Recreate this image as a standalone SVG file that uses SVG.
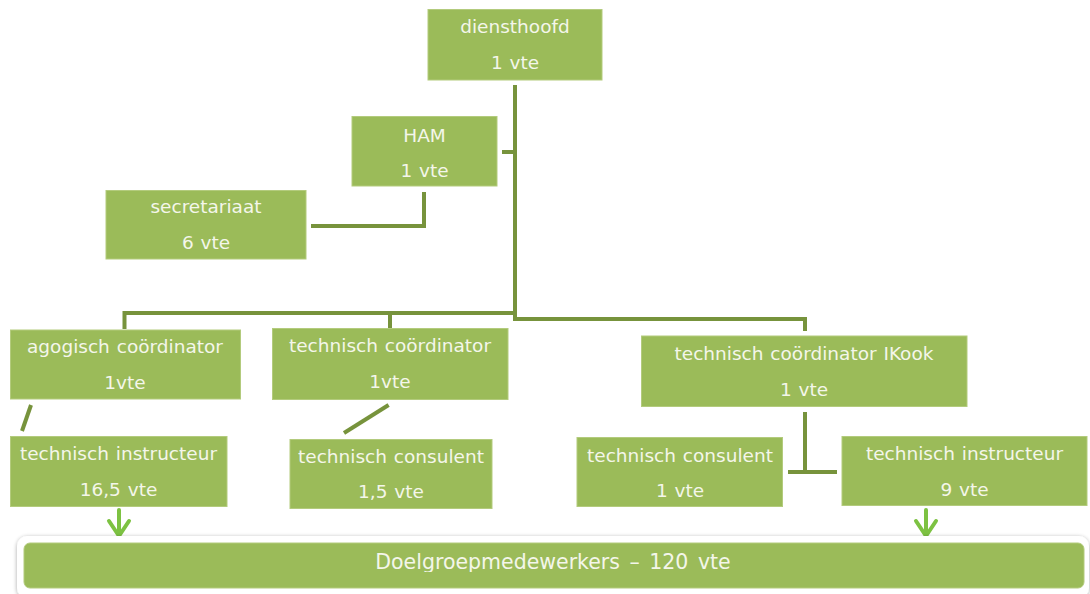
<svg xmlns="http://www.w3.org/2000/svg" width="1090" height="594" viewBox="0 0 1090 594">
  <defs>
    <style>
      .box { fill: #9bbb59; stroke: #b3cb7d; stroke-width: 1; }
      .t { font-family: "DejaVu Sans", "Liberation Sans", sans-serif; font-size: 18.5px; fill: #f4f6ea; text-anchor: middle; word-spacing: 1px; }
      .con { fill: none; stroke: #77933c; stroke-width: 4; }
      .arr { fill: none; stroke: #7dc242; stroke-width: 4; stroke-linecap: round; stroke-linejoin: round; }
    </style>
    <filter id="sh" x="-5%" y="-30%" width="110%" height="160%">
      <feGaussianBlur in="SourceAlpha" stdDeviation="2"/>
      <feOffset dx="0" dy="1" result="b"/>
      <feComponentTransfer><feFuncA type="linear" slope="0.35"/></feComponentTransfer>
      <feMerge><feMergeNode/><feMergeNode in="SourceGraphic"/></feMerge>
    </filter>
    <clipPath id="barclip"><rect x="24" y="543" width="1060" height="29"/></clipPath>
  </defs>
  <rect width="1090" height="594" fill="#ffffff"/>

  <g id="connectors">
    <path class="con" d="M515,85 V319 H805 V331"/>
    <path class="con" d="M502,152 H515"/>
    <path class="con" d="M424,192 V226 H311"/>
    <path class="con" d="M124.5,329 V313 H515"/>
    <path class="con" d="M390,313 V328"/>
    <path class="con" d="M31,405 L22,431"/>
    <path class="con" d="M388.6,405 L344,433"/>
    <path class="con" d="M805,412 V472"/>
    <path class="con" d="M788,472 H837"/>
    <path class="arr" d="M119,510 V535 M109,521 L119,536 L129,521"/>
    <path class="arr" d="M926,510 V535 M916,521 L926,536 L936,521"/>
  </g>

  <g id="diensthoofd">
    <rect class="box" x="428" y="9.5" width="174" height="70.5"/>
    <text class="t" x="515" y="33">diensthoofd</text>
    <text class="t" x="515" y="69">1 vte</text>
  </g>
  <g id="ham">
    <rect class="box" x="352" y="116.5" width="145" height="69.5"/>
    <text class="t" x="424.5" y="142">HAM</text>
    <text class="t" x="424.5" y="177">1 vte</text>
  </g>
  <g id="secretariaat">
    <rect class="box" x="106" y="190.5" width="200" height="68.5"/>
    <text class="t" x="206" y="213">secretariaat</text>
    <text class="t" x="206" y="249">6 vte</text>
  </g>
  <g id="agogisch-coordinator">
    <rect class="box" x="10.5" y="330" width="230" height="69"/>
    <text class="t" x="125" y="353">agogisch coördinator</text>
    <text class="t" x="125" y="389">1vte</text>
  </g>
  <g id="technisch-coordinator">
    <rect class="box" x="272.5" y="328.5" width="235.5" height="71"/>
    <text class="t" x="390" y="352">technisch coördinator</text>
    <text class="t" x="390" y="388">1vte</text>
  </g>
  <g id="technisch-coordinator-ikook">
    <rect class="box" x="641.5" y="336" width="325.5" height="70.5"/>
    <text class="t" x="804" y="360">technisch coördinator IKook</text>
    <text class="t" x="804" y="396">1 vte</text>
  </g>
  <g id="technisch-instructeur-links">
    <rect class="box" x="10.5" y="436.5" width="216.5" height="70"/>
    <text class="t" x="118.5" y="460">technisch instructeur</text>
    <text class="t" x="118.5" y="496">16,5 vte</text>
  </g>
  <g id="technisch-consulent-midden">
    <rect class="box" x="290" y="439.5" width="202" height="69"/>
    <text class="t" x="391" y="463">technisch consulent</text>
    <text class="t" x="391" y="498">1,5 vte</text>
  </g>
  <g id="technisch-consulent-rechts">
    <rect class="box" x="577" y="437.5" width="205.5" height="69"/>
    <text class="t" x="680" y="462">technisch consulent</text>
    <text class="t" x="680" y="497">1 vte</text>
  </g>
  <g id="technisch-instructeur-rechts">
    <rect class="box" x="842" y="436.5" width="245" height="69"/>
    <text class="t" x="964.5" y="460">technisch instructeur</text>
    <text class="t" x="964.5" y="496">9 vte</text>
  </g>
  <g id="doelgroepmedewerkers">
    <rect x="17" y="536" width="1072" height="62" rx="10" fill="#ffffff" filter="url(#sh)"/>
    <rect x="24" y="543" width="1060" height="45" rx="6" fill="#9bbb59" stroke="#b3cb7d" stroke-width="1"/>
    <text class="t" x="553" y="569" style="font-size:20.5px; word-spacing:3px" clip-path="url(#barclip)">Doelgroepmedewerkers – 120 vte</text>
  </g>
</svg>
